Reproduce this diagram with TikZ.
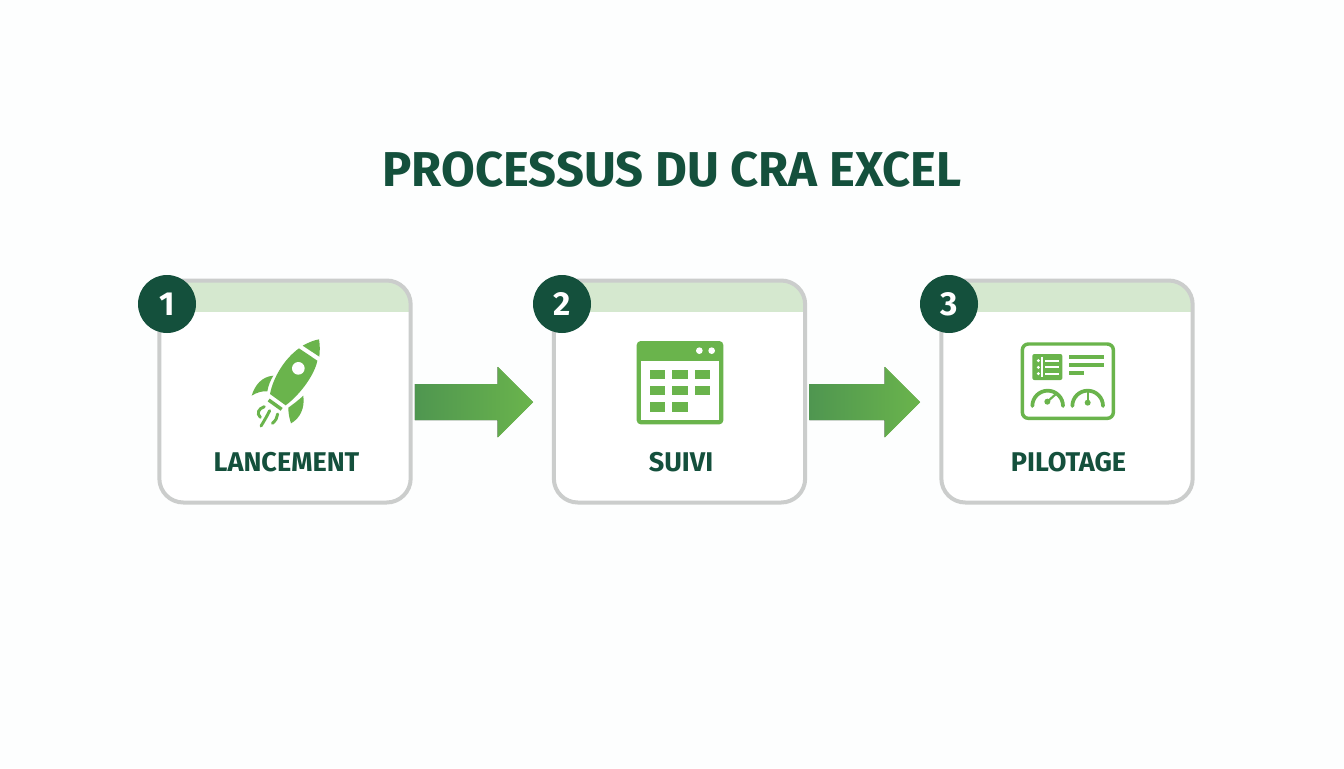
\documentclass[tikz,border=0pt]{standalone}
\usepackage{xcolor}
\usepackage{fontspec}
\setmainfont{Fira Sans}
\usetikzlibrary{calc}

\definecolor{darkgreen}{HTML}{14503C}
\definecolor{leafgreen}{HTML}{6AB44C}
\definecolor{flowdark}{HTML}{4F9650}
\definecolor{bandgreen}{HTML}{D5E8CF}
\definecolor{framegray}{HTML}{CBCDCC}
\definecolor{pagewhite}{HTML}{FDFEFE}

\tikzset{
  cardbox/.style={draw=framegray, line width=3pt, rounded corners=18pt, minimum width=188.5pt, minimum height=166.5pt},
  stepbadge/.style={circle, fill=darkgreen, text=white, font=\bfseries\fontsize{25}{25}\selectfont, minimum size=43.5pt, inner sep=0pt},
  steplabel/.style={text=darkgreen, font=\bfseries\fontsize{20.3}{24}\selectfont, inner sep=0pt},
  flowshade/.style={left color=flowdark, right color=leafgreen, draw=none},
  iconline/.style={draw=leafgreen, line cap=round},
}

\begin{document}
\begin{tikzpicture}[x=0.75pt, y=-0.75pt]
  \useasboundingbox (0,0) rectangle (1344,768);
  \fill[pagewhite] (0,0) rectangle (1344,768);

  % title
  \node[text=darkgreen, font=\bfseries\fontsize{36.7}{40}\selectfont, inner sep=0pt] (title) at (672,170) {PROCESSUS DU CRA EXCEL};

  % cards with header band, badge and label
  \foreach \n/\cx/\bx/\lbl in {1/285/167/LANCEMENT, 2/679.5/562/SUIVI, 3/1067/949/PILOTAGE} {
    \begin{scope}
      \clip[rounded corners=18pt] (\cx-126,280) rectangle (\cx+126,503);
      \fill[white] (\cx-126,280) rectangle (\cx+126,503);
      \fill[bandgreen] (\cx-126,280) rectangle (\cx+126,312);
    \end{scope}
    \node[cardbox] (card\n) at (\cx,391.5) {};
    \node[stepbadge] (badge\n) at (\bx,304) {\n};
    \node[steplabel] (label\n) at (\cx+1.5,462) {\lbl};
  }

  % block arrows, card edge to next badge
  \foreach \a/\b in {1/2, 2/3} {
    \coordinate (tail\a) at ([xshift=1.6pt, yshift=-7.9pt]card\a.east);
    \coordinate (tip\a) at (tail\a -| badge\b.west);
    \fill[flowshade] ($(tail\a)+(0,-18)$) -- ($(tip\a)+(-35,-18)$) -- ($(tip\a)+(-35,-35)$) -- (tip\a)
      -- ($(tip\a)+(-35,35)$) -- ($(tip\a)+(-35,18)$) -- ($(tail\a)+(0,18)$) -- cycle;
    \draw[leafgreen, line width=0.5pt] ($(tip\a)+(-35,-35)$) -- (tip\a) -- ($(tip\a)+(-35,35)$);
  }

  % rocket
  \begin{scope}[shift={(235,330)}, x=0.25pt, y=-0.25pt]
    \fill[leafgreen] (203,47) .. controls (220,37) and (240,30) .. (252,28) .. controls (255,45) and (255,62) .. (253,80) -- cycle;
    \fill[leafgreen] (192,55) -- (247,92) .. controls (240,130) and (200,190) .. (152,226) -- (105,192) .. controls (115,140) and (150,85) .. (192,55) -- cycle;
    \fill[white] (190,115) circle (19);
    \fill[leafgreen] (115,137) .. controls (80,140) and (60,165) .. (50,197) .. controls (65,187) and (85,182) .. (97,184) .. controls (100,165) and (107,150) .. (115,137) -- cycle;
    \fill[leafgreen] (205,197) .. controls (185,215) and (175,222) .. (160,233) .. controls (160,250) and (163,265) .. (168,280) .. controls (195,265) and (210,235) .. (205,197) -- cycle;
    \draw[leafgreen, line width=2.6pt] (101,210) -- (140,238);
    \draw[iconline, line width=2.2pt] (88,230) .. controls (70,236) and (64,250) .. (76,262);
    \draw[iconline, line width=2.2pt] (104,242) .. controls (97,256) and (88,272) .. (78,288);
    \draw[iconline, line width=2.2pt] (128,252) .. controls (127,263) and (122,272) .. (112,280);
  \end{scope}

  % calendar
  \begin{scope}[shift={(620,330)}, x=0.25pt, y=-0.25pt]
    \fill[leafgreen, rounded corners=3pt] (50,33) rectangle (310,283);
    \fill[white] (62,92) rectangle (298,271);
    \fill[white] (238,62) circle (10) (275,62) circle (10);
    \foreach \cellx/\celly in {90/119, 157/119, 224/119, 90/168, 157/168, 224/168, 90/217, 157/217} {
      \fill[leafgreen] (\cellx,\celly) rectangle ++(46,28);
    }
  \end{scope}

  % dashboard
  \begin{scope}[shift={(1005,330)}, x=0.25pt, y=-0.25pt]
    \draw[leafgreen, line width=2.6pt, rounded corners=4.5pt] (52,42) rectangle (325,265);
    \fill[leafgreen, rounded corners=1.5pt] (82,72) rectangle (172,150);
    \draw[white, line width=1.4pt] (120,92) -- (163,92) (120,112) -- (163,112) (120,131) -- (163,131) (112,80) -- (112,142);
    \fill[white] (100,92) circle (5) (100,112) circle (5) (100,131) circle (5);
    \draw[leafgreen, line width=2.8pt] (192,80) -- (297,80) (192,105) -- (297,105) (192,128) -- (237,128);
    % gauges
    \draw[iconline, line width=2.8pt] (82,228) arc (180:360:46);
    \draw[iconline, line width=2.8pt] (202,228) arc (180:360:46);
    \fill[leafgreen] (127,215) circle (9);
    \draw[leafgreen, line width=1.6pt] (127,215) -- (155,190);
    \fill[leafgreen] (248,218) circle (9);
    \draw[leafgreen, line width=1.6pt] (248,218) -- (248,185);
  \end{scope}
\end{tikzpicture}
\end{document}
